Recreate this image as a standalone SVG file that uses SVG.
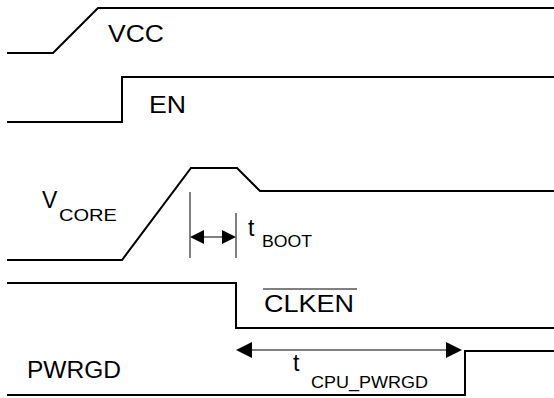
<svg xmlns="http://www.w3.org/2000/svg" width="554" height="398" viewBox="0 0 554 398">
<style>
.sig{fill:none;stroke:#000;stroke-width:2;stroke-linejoin:miter}
.dim{fill:none;stroke:#000;stroke-width:1}
.t{font-family:"Liberation Sans",Arial,sans-serif;fill:#000}
.big{font-size:23px}
.sub{font-size:17px}
</style>
<rect width="554" height="398" fill="#fff"/>
<g id="vcc">
<polyline class="sig" points="7,53 53,53 98,8 554,8"/>
<text class="t big" x="108" y="42" textLength="56" lengthAdjust="spacingAndGlyphs">VCC</text>
</g>
<g id="en">
<polyline class="sig" points="7,122 122,122 122,77 554,77"/>
<text class="t big" x="149" y="113" textLength="37" lengthAdjust="spacingAndGlyphs">EN</text>
</g>
<g id="vcore">
<polyline class="sig" points="7,260 122,260 191,168 237,168 260,191 554,191"/>
<text class="t big" x="42" y="208">V</text>
<text class="t sub" x="59" y="221" textLength="58" lengthAdjust="spacingAndGlyphs">CORE</text>
</g>
<g id="clken">
<polyline class="sig" points="7,283 236,283 236,328 554,328"/>
<text class="t big" x="264" y="312" textLength="90" lengthAdjust="spacingAndGlyphs">CLKEN</text>
<line class="dim" x1="263" y1="289" x2="357" y2="289"/>
</g>
<g id="pwrgd">
<polyline class="sig" points="7,395 465,395 465,351 554,351"/>
<text class="t big" x="27" y="378" textLength="94" lengthAdjust="spacingAndGlyphs">PWRGD</text>
</g>
<g id="connectors">
<line class="dim" x1="190" y1="192" x2="190" y2="258"/>
<line class="dim" x1="236" y1="213" x2="236" y2="258"/>
<line class="dim" x1="200" y1="237" x2="226" y2="237"/>
<polygon points="190,237 204,230 204,244" fill="#000"/>
<polygon points="236,237 222,230 222,244" fill="#000"/>
<line class="dim" x1="248" y1="350" x2="450" y2="350"/>
<polygon points="236,350 252,342 252,358" fill="#000"/>
<polygon points="462,350 446,342 446,358" fill="#000"/>
</g>
<g id="tboot">
<text class="t big" x="248" y="236">t</text>
<text class="t sub" x="262" y="247" textLength="50" lengthAdjust="spacingAndGlyphs">BOOT</text>
</g>
<g id="tcpu">
<text class="t big" x="293" y="371">t</text>
<text class="t sub" x="311" y="388" textLength="117" lengthAdjust="spacingAndGlyphs">CPU_PWRGD</text>
</g>
</svg>
